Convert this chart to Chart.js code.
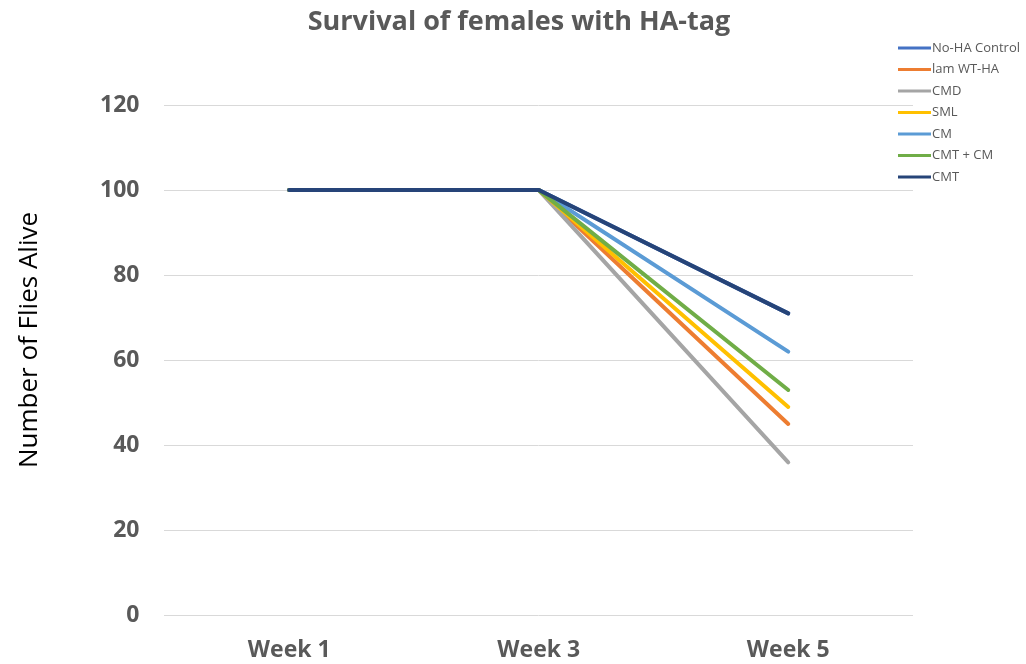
<!DOCTYPE html>
<html>
<head>
<meta charset="utf-8">
<script src="https://cdn.jsdelivr.net/npm/chart.js@4"></script>
<style>
  html, body { margin: 0; padding: 0; background: #fff; }
  #wrap { width: 1026px; height: 664px; }
</style>
</head>
<body>
<div id="wrap"><canvas id="survival-chart" width="1026" height="664"></canvas></div>
<script>
// survival data
const weeks = ["Week 1", "Week 3", "Week 5"];
const seriesNames = ["No-HA Control", "lam WT-HA", "CMD", "SML", "CM", "CMT + CM", "CMT"];
const noHaControl = [100, 100, 71];
const lamWtHa = [100, 100, 45];
const cmd = [100, 100, 36];
const sml = [100, 100, 49];
const cm = [100, 100, 62];
const cmtCm = [100, 100, 53];
const cmt = [100, 100, 71];
const seriesColors = ["#4472C4", "#ED7D31", "#A5A5A5", "#FFC000", "#5B9BD5", "#70AD47", "#264478"];
const yTicks = [0, 20, 40, 60, 80, 100, 120];
const chartTitle = "Survival of females with HA-tag";
const yTitle = "Number of Flies Alive";

const seriesValues = [noHaControl, lamWtHa, cmd, sml, cm, cmtCm, cmt];

// title centred on the whole picture, y title, legend at the top right over the plot
const overlay = {
  id: "overlay",
  afterDraw(chart) {
    const ctx = chart.ctx;
    ctx.save();
    ctx.fillStyle = "#595959";
    ctx.font = "bold 27px 'Open Sans', sans-serif";
    ctx.textAlign = "center";
    ctx.textBaseline = "middle";
    ctx.fillText(chartTitle, 519, 22);

    ctx.save();
    ctx.translate(30, 340);
    ctx.rotate(-Math.PI / 2);
    ctx.fillStyle = "#000";
    ctx.font = "26px 'Open Sans', sans-serif";
    ctx.fillText(yTitle, 0, 0);
    ctx.restore();

    ctx.font = "13px 'Open Sans', sans-serif";
    ctx.textAlign = "left";
    chart.data.datasets.forEach((ds, i) => {
      const y = 48 + i * 21.5;
      ctx.strokeStyle = ds.borderColor;
      ctx.lineWidth = 3;
      ctx.beginPath();
      ctx.moveTo(898, y);
      ctx.lineTo(931, y);
      ctx.stroke();
      ctx.fillStyle = "#595959";
      ctx.fillText(ds.label, 932, y);
    });
    ctx.restore();
  },
};

const ctx = document.getElementById("survival-chart").getContext("2d");
new Chart(ctx, {
  type: "line",
  data: {
    labels: weeks,
    datasets: seriesNames.map((name, i) => ({
      label: name,
      data: seriesValues[i],
      borderColor: seriesColors[i],
      backgroundColor: seriesColors[i],
      borderWidth: 4,
      pointRadius: 0,
      tension: 0,
      borderCapStyle: "round",
      order: seriesNames.length - i,
    })),
  },
  options: {
    responsive: false,
    animation: false,
    layout: {
      padding: { left: 75, right: 113, top: 105, bottom: -21 },
    },
    plugins: {
      legend: { display: false },
      tooltip: { enabled: false },
      title: { display: false },
    },
    scales: {
      x: {
        offset: true,
        grid: { display: false, drawTicks: false },
        border: { display: false },
        ticks: {
          color: "#595959",
          padding: 21,
          font: { family: "'Open Sans', sans-serif", size: 23, weight: "bold" },
        },
      },
      y: {
        min: 0,
        max: 120,
        afterBuildTicks: (axis) => {
          axis.ticks = yTicks.map((v) => ({ value: v }));
        },
        grid: { color: "#d9d9d9", lineWidth: 1, drawTicks: false },
        border: { display: false },
        ticks: {
          color: "#595959",
          padding: 25,
          font: { family: "'Open Sans', sans-serif", size: 23, weight: "bold" },
        },
      },
    },
  },
  plugins: [overlay],
});
</script>
</body>
</html>
